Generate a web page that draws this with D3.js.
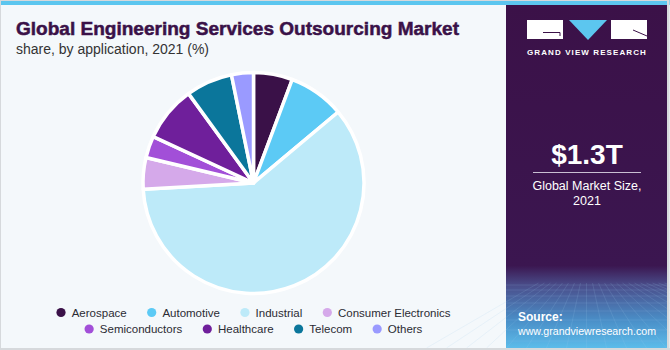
<!DOCTYPE html>
<html><head><meta charset="utf-8">
<script src="https://cdn.jsdelivr.net/npm/d3@7"></script>
<style>html,body{margin:0;padding:0;background:#fff;}svg{display:block;}</style>
</head><body>
<script>
const categories = ["Aerospace","Automotive","Industrial","Consumer Electronics","Semiconductors","Healthcare","Telecom","Others"];
const shares = [5.7, 8.2, 60.2, 4.6, 3.2, 8.1, 6.8, 3.2];
const colors = ["#3a1148","#5ccaf5","#bdeaf9","#d5a9ea","#a24fd8","#6f1f9b","#0b769b","#9a9aff"];
const legendRows = [[0,1,2,3],[4,5,6,7]];

const W = 670, H = 350;
const svg = d3.select("body").append("svg").attr("width", W).attr("height", H);
const defs = svg.append("defs");

// backgrounds
svg.append("rect").attr("x",0).attr("y",0).attr("width",W).attr("height",H).attr("fill","#f4f8fb");
svg.append("rect").attr("x",0).attr("y",0).attr("width",W).attr("height",5).attr("fill","#5cc6ef");

// right panel
const px = 506, pw = 161;
const grad = defs.append("linearGradient").attr("id","pg").attr("x1",0).attr("y1",0).attr("x2",0).attr("y2",1);
grad.append("stop").attr("offset","0").attr("stop-color","#3b1148");
grad.append("stop").attr("offset","0.76").attr("stop-color","#3b1650");
grad.append("stop").attr("offset","0.82").attr("stop-color","#4a4f8c");
grad.append("stop").attr("offset","0.92").attr("stop-color","#4a8fc8");
grad.append("stop").attr("offset","1").attr("stop-color","#5cbcea");
svg.append("rect").attr("x",px).attr("y",5).attr("width",pw).attr("height",343).attr("fill","url(#pg)");

// mesh lines
const mesh = svg.append("g").attr("stroke","#9ec8ee").attr("stroke-opacity",0.22).attr("stroke-width",0.7).attr("fill","none");
[285,290,296,303,311,320,330,341].forEach(y=>{
  mesh.append("line").attr("x1",px).attr("x2",px+pw).attr("y1",y).attr("y2",y);
});
for(let i=-8;i<=16;i++){
  const xt = px + pw/2 + i*6, xb = px + pw/2 + i*20;
  if (xb < px - 200 || xt > px + pw) continue;
  mesh.append("line").attr("x1",Math.max(px, xt)).attr("y1",283).attr("x2",xb).attr("y2",348);
}

// logo
const lg = svg.append("g");
lg.append("rect").attr("x",527).attr("y",20).attr("width",36).attr("height",19).attr("fill","#fff");
lg.append("path").attr("d","M543,32.5 H560 V36").attr("stroke","#3b1148").attr("stroke-width",1).attr("fill","none");
lg.append("path").attr("d","M569,20 H607 L588,40 Z").attr("fill","#5cc6ef");
lg.append("rect").attr("x",611).attr("y",20).attr("width",36).attr("height",19).attr("fill","#fff");
lg.append("path").attr("d","M633,30 L647,36").attr("stroke","#3b1148").attr("stroke-width",1).attr("fill","none");
svg.append("text").attr("x",587).attr("y",54.5).attr("text-anchor","middle")
  .attr("font-family","Liberation Sans, Arial, sans-serif").attr("font-weight","bold").attr("font-size",8)
  .attr("letter-spacing",1.1).attr("fill","#fff").text("GRAND VIEW RESEARCH");

// market size
svg.append("text").attr("x",587).attr("y",164).attr("text-anchor","middle")
  .attr("font-family","Liberation Sans, Arial, sans-serif").attr("font-weight","bold").attr("font-size",28)
  .attr("fill","#fff").text("$1.3T");
svg.append("line").attr("x1",533).attr("x2",641).attr("y1",172.5).attr("y2",172.5).attr("stroke","#c9bfd3").attr("stroke-width",1);
svg.append("text").attr("x",587).attr("y",190).attr("text-anchor","middle")
  .attr("font-family","Liberation Sans, Arial, sans-serif").attr("font-size",12.5).attr("fill","#fff").text("Global Market Size,");
svg.append("text").attr("x",587).attr("y",205).attr("text-anchor","middle")
  .attr("font-family","Liberation Sans, Arial, sans-serif").attr("font-size",12.5).attr("fill","#fff").text("2021");

// source
svg.append("text").attr("x",518).attr("y",321).attr("font-family","Liberation Sans, Arial, sans-serif")
  .attr("font-weight","bold").attr("font-size",12).attr("fill","#fff").text("Source:");
svg.append("text").attr("x",518).attr("y",334.5).attr("font-family","Liberation Sans, Arial, sans-serif")
  .attr("font-size",11.5).attr("fill","#fff")
  .attr("textLength",138).attr("lengthAdjust","spacingAndGlyphs").text("www.grandviewresearch.com");

// title
svg.append("text").attr("x",16).attr("y",35).attr("font-family","Liberation Sans, Arial, sans-serif")
  .attr("font-weight","bold").attr("font-size",18.5).attr("fill","#3a1148")
  .attr("textLength",443).attr("lengthAdjust","spacingAndGlyphs")
  .style("stroke","#3a1148").style("stroke-width",0.5)
  .text("Global Engineering Services Outsourcing Market");
svg.append("text").attr("x",16).attr("y",54).attr("font-family","Liberation Sans, Arial, sans-serif")
  .attr("font-size",14).attr("fill","#333").text("share, by application, 2021 (%)");

// pie
const cx = 253.5, cy = 183, R = 110.5;
const pie = d3.pie().sort(null).value(d=>d.v);
const arc = d3.arc().innerRadius(0).outerRadius(R);
const data = categories.map((c,i)=>({c, v: shares[i], col: colors[i]}));
svg.append("g").attr("transform",`translate(${cx},${cy})`)
  .selectAll("path").data(pie(data)).join("path")
  .attr("d",arc).attr("fill",d=>d.data.col)
  .attr("stroke","#fff").attr("stroke-width",3.5).attr("stroke-linejoin","round");

// legend
const legendY = [312.5, 329];
const lgG = svg.append("g").attr("font-family","Liberation Sans, Arial, sans-serif").attr("font-size",11.5).attr("fill","#2b2b33");
legendRows.forEach((row, ri)=>{
  const rowG = lgG.append("g");
  let x = 0;
  row.forEach(i=>{
    const it = rowG.append("g").attr("transform",`translate(${x},0)`);
    it.append("circle").attr("cx",4.5).attr("cy",0).attr("r",4.6).attr("fill",colors[i]);
    const t = it.append("text").attr("x",15.2).attr("y",4.1).text(categories[i]);
    x += 15.2 + t.node().getComputedTextLength() + 20.5;
  });
  const total = x - 20.5;
  rowG.attr("transform",`translate(${cx - total/2},${legendY[ri]})`);
});

// border
svg.append("rect").attr("x",0.5).attr("y",0.5).attr("width",W-1.5).attr("height",H-1.5)
  .attr("fill","none").attr("stroke","#d6d9dc").attr("stroke-width",1);
svg.append("line").attr("x1",W-2).attr("x2",W-2).attr("y1",0).attr("y2",H).attr("stroke","#d6d9dc").attr("stroke-width",2);
svg.append("line").attr("x1",0).attr("x2",W).attr("y1",H-1).attr("y2",H-1).attr("stroke","#d6d9dc").attr("stroke-width",2);
</script>
</body></html>
